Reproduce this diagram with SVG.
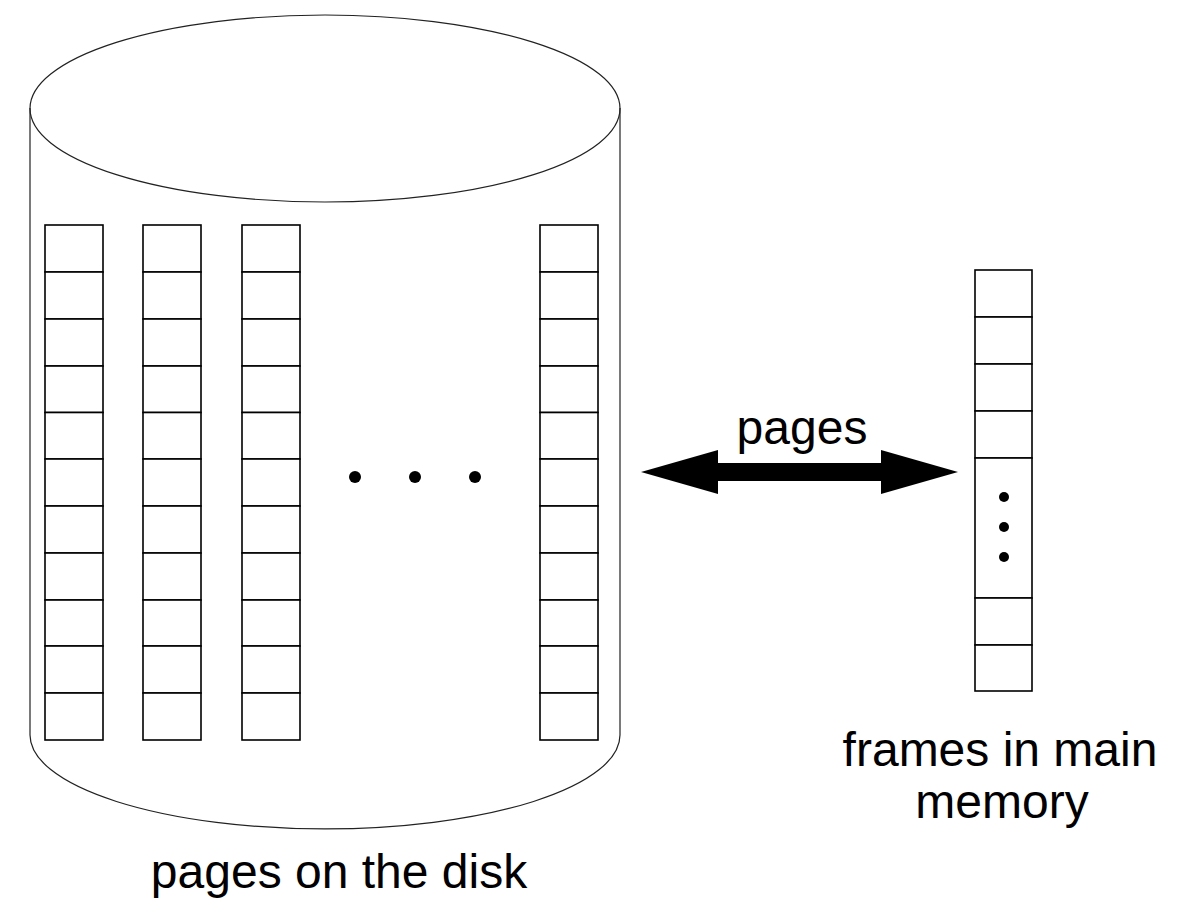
<svg xmlns="http://www.w3.org/2000/svg" width="1195" height="913" viewBox="0 0 1195 913">
<style>
.cyl{fill:none;stroke:#222;stroke-width:1.2}
.cell{fill:#fff;stroke:#000;stroke-width:1.6}
.lbl{font-family:"Liberation Sans",Arial,sans-serif;font-size:48px;fill:#000;text-anchor:middle}
.dot{fill:#000}
</style>
<defs>
<g id="col">
<rect class="cell" x="0" y="0" width="58" height="47"/>
<rect class="cell" x="0" y="47" width="58" height="47"/>
<rect class="cell" x="0" y="94" width="58" height="47"/>
<rect class="cell" x="0" y="141" width="58" height="46.5"/>
<rect class="cell" x="0" y="187.5" width="58" height="46.5"/>
<rect class="cell" x="0" y="234" width="58" height="47"/>
<rect class="cell" x="0" y="281" width="58" height="47"/>
<rect class="cell" x="0" y="328" width="58" height="47"/>
<rect class="cell" x="0" y="375" width="58" height="46"/>
<rect class="cell" x="0" y="421" width="58" height="47"/>
<rect class="cell" x="0" y="468" width="58" height="47"/>
</g>
</defs>
<rect width="1195" height="913" fill="#fff"/>
<g id="disk">
<path class="cyl" d="M30,108 L30,735 A295,94 0 0 0 620,735 L620,108"/>
<ellipse class="cyl" cx="325" cy="108.5" rx="295" ry="93.5"/>
<use href="#col" x="45" y="225"/>
<use href="#col" x="143" y="225"/>
<use href="#col" x="242" y="225"/>
<use href="#col" x="540" y="225"/>
<circle class="dot" cx="355" cy="477" r="6"/>
<circle class="dot" cx="415" cy="477" r="6"/>
<circle class="dot" cx="475" cy="477" r="6"/>
<text class="lbl" x="339" y="888">pages on the disk</text>
</g>
<g id="memory">
<rect class="cell" x="975" y="270" width="57" height="47"/>
<rect class="cell" x="975" y="317" width="57" height="47"/>
<rect class="cell" x="975" y="364" width="57" height="47"/>
<rect class="cell" x="975" y="411" width="57" height="47"/>
<rect class="cell" x="975" y="458" width="57" height="140"/>
<rect class="cell" x="975" y="598" width="57" height="47"/>
<rect class="cell" x="975" y="645" width="57" height="46"/>
<circle class="dot" cx="1004" cy="497" r="5"/>
<circle class="dot" cx="1004" cy="527" r="5"/>
<circle class="dot" cx="1004" cy="557" r="5"/>
<text class="lbl" x="1000" y="766">frames in main</text>
<text class="lbl" x="1002" y="818">memory</text>
</g>
<g id="connectors">
<polygon fill="#000" points="641,472 718,450 718,463 881,463 881,450 958,472 881,494 881,481 718,481 718,494"/>
<text class="lbl" x="802" y="444">pages</text>
</g>
</svg>
